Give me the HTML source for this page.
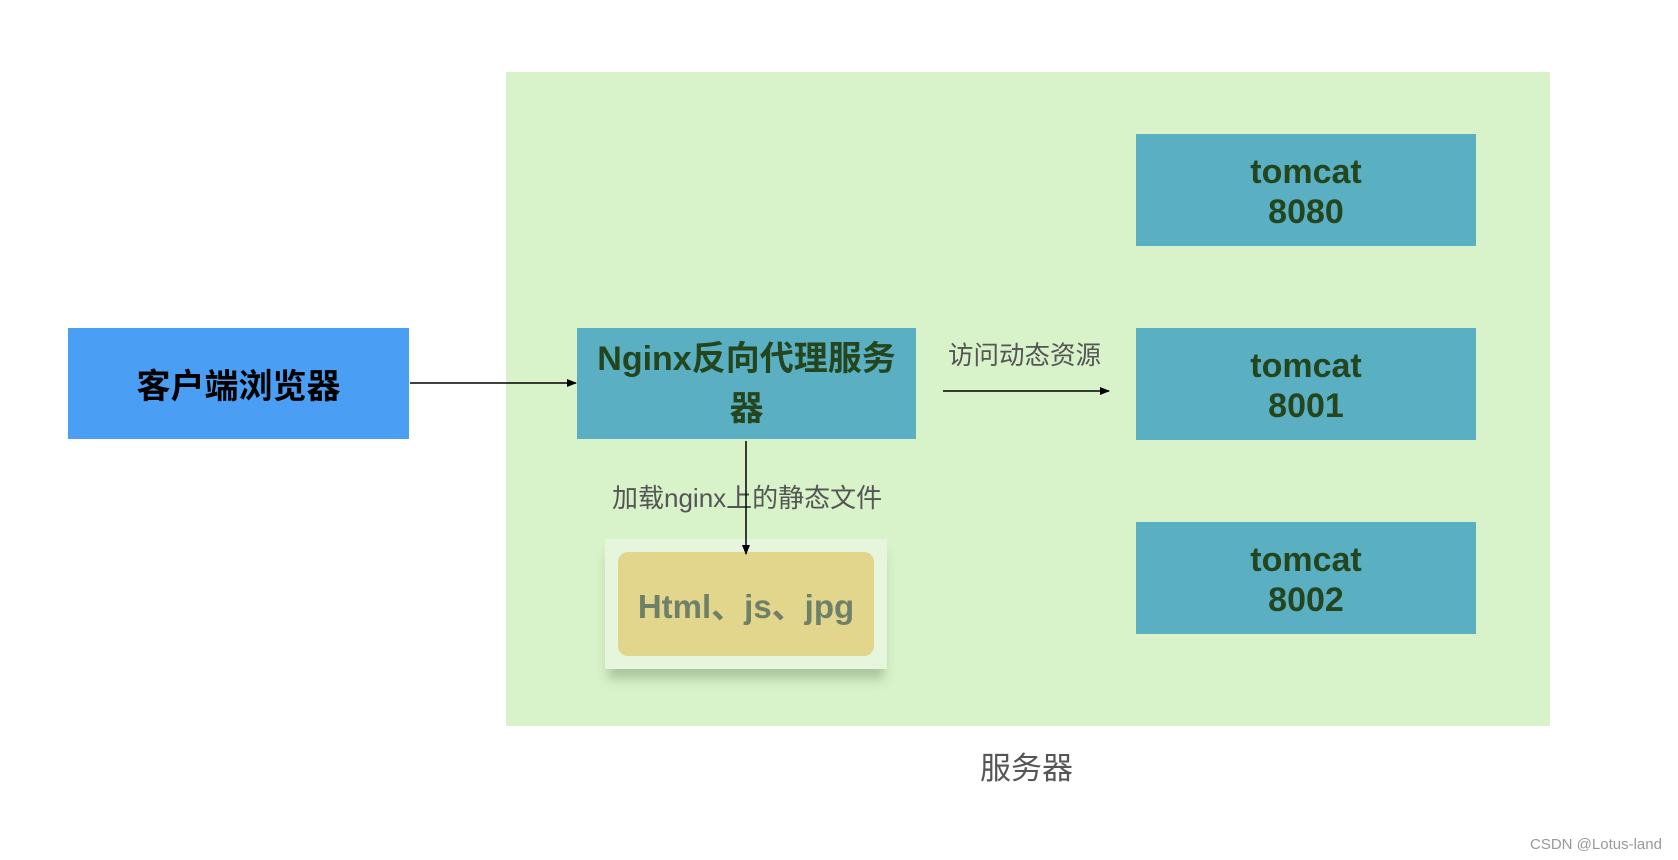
<!DOCTYPE html>
<html><head><meta charset="utf-8"><style>
body{margin:0;width:1678px;height:860px;background:#fff;position:relative;overflow:hidden;font-family:"Liberation Sans","Noto Sans CJK SC",sans-serif}
.a{position:absolute}
.box{position:absolute;display:flex;align-items:center;justify-content:center;text-align:center;font-weight:bold}
.tc{background:#5aafc3;color:#24461f;font-size:34px;line-height:40px;left:1136px;width:340px;height:112px;padding-top:3px;box-sizing:border-box}
</style></head><body>
<div class="a" style="left:506px;top:72px;width:1044px;height:654px;background:#d8f2c9"></div>
<div class="box" style="left:68px;top:328px;width:341px;height:111px;background:#4a9ff5;color:#000;font-size:34px">客户端浏览器</div>
<div class="box" style="left:577px;top:328px;width:339px;height:111px;background:#5aafc3;color:#24461f;font-size:34px;line-height:50px">Nginx反向代理服务<br>器</div>
<div class="box tc" style="top:134px">tomcat<br>8080</div>
<div class="box tc" style="top:328px">tomcat<br>8001</div>
<div class="box tc" style="top:522px">tomcat<br>8002</div>
<div class="a" style="left:948px;top:335px;font-size:25.5px;color:#555">访问动态资源</div>
<div class="a" style="left:612px;top:478px;font-size:26px;color:#555">加载nginx上的静态文件</div>
<div class="a" style="left:608px;top:545px;width:276px;height:124px;box-shadow:0 10px 10px rgba(90,120,80,.35)"></div>
<div class="a" style="left:605px;top:539px;width:282px;height:130px;background:#e6f6dc"></div>
<div class="box" style="left:618px;top:552px;width:256px;height:104px;background:#e2d58c;border-radius:10px;color:#6f8068;font-size:33px">Html、js、jpg</div>
<svg class="a" style="left:0;top:0" width="1678" height="860">
<defs><marker id="m" markerWidth="10" markerHeight="8" refX="9" refY="4" orient="auto" markerUnits="userSpaceOnUse"><path d="M0,0L10,4L0,8z" fill="#000"/></marker></defs>
<line x1="410" y1="383" x2="576" y2="383" stroke="#000" stroke-width="1.5" marker-end="url(#m)"/>
<line x1="943" y1="391" x2="1109" y2="391" stroke="#000" stroke-width="1.5" marker-end="url(#m)"/>
<line x1="746" y1="441" x2="746" y2="554" stroke="#000" stroke-width="1.5" marker-end="url(#m)"/>
</svg>
<div class="a" style="left:980px;top:743px;font-size:31px;color:#555">服务器</div>
<div class="a" style="left:1530px;top:836px;font-size:15px;color:#999">CSDN @Lotus-land</div>
</body></html>
